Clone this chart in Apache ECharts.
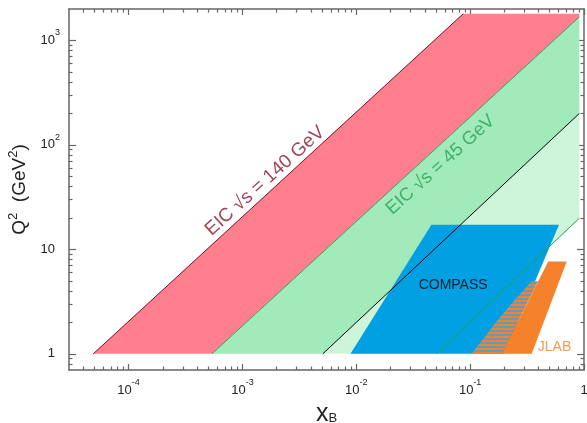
<!DOCTYPE html>
<html>
<head>
<meta charset="utf-8">
<script src="https://cdn.jsdelivr.net/npm/echarts@6/dist/echarts.min.js"></script>
<style>
html,body{margin:0;padding:0;background:#fff;}
#chart{width:587px;height:423px;}
</style>
</head>
<body>
<div id="chart"></div>
<script>
// ---- axis ticks ----
const xMajorTicks = [1e-4, 1e-3, 1e-2, 1e-1, 1];
const xMinorTicks = [4e-5,5e-5,6e-5,7e-5,8e-5,9e-5,
  2e-4,3e-4,4e-4,5e-4,6e-4,7e-4,8e-4,9e-4,
  2e-3,3e-3,4e-3,5e-3,6e-3,7e-3,8e-3,9e-3,
  2e-2,3e-2,4e-2,5e-2,6e-2,7e-2,8e-2,9e-2,
  0.2,0.3,0.4,0.5,0.6,0.7,0.8,0.9];
const yMajorTicks = [1, 10, 100, 1000];
const yMinorTicks = [0.8,0.9,2,3,4,5,6,7,8,9,20,30,40,50,60,70,80,90,200,300,400,500,600,700,800,900];

// ---- kinematic regions (x_B, Q^2) ----
const eic140Band = [[4.9e-5,1],[0.087,1800],[0.91,1800],[0.91,1680],[5.4e-4,1]];
const eic45Band  = [[5.4e-4,1],[0.91,1680],[0.91,200],[5.08e-3,1]];
const eic45Light = [[5.08e-3,1],[0.91,200],[0.91,19.9],[0.0506,1]];
const compassRegion = [[0.0089,1],[0.0457,17.2],[0.603,17.2],[0.2,1]];
const jlabHatch = [[0.103,1],[0.171,2.05],[0.247,3.3],[0.347,4.94],[0.395,4.94],[0.189,1]];
const jlabRegion = [[0.189,1],[0.485,7.66],[0.705,7.66],[0.347,1]];

// ---- boundary lines ----
const edge140 = [[4.9e-5,1],[0.087,1800]];
const edge45 = [[5.4e-4,1],[0.91,1680]];
const edgeBlack = [[5.08e-3,1],[0.91,200]];
const edgeGreenThin = [[0.0506,1],[0.91,19.9]];

// ---- region labels ----
const labelTexts = ['EIC \u221As = 140 GeV', 'EIC \u221As = 45 GeV', 'COMPASS', 'JLAB'];
const labelPos = [[1.58e-3,45.2],[0.055,64.3],[0.0709,4.59],[0.551,1.17]];

const chart = echarts.init(document.getElementById('chart'), null, {renderer:'canvas'});

function polygonSeries(pts, fill, z){
  return {
    type:'custom', coordinateSystem:'cartesian2d', xAxisIndex:0, yAxisIndex:0,
    data: pts, z: z, silent:true, animation:false, clip:false,
    renderItem: function(params, api){
      if (params.dataIndex !== 0) return null;
      const points = pts.map(p => api.coord(p));
      return {type:'polygon', shape:{points:points}, style:{fill:fill, stroke:null}};
    }
  };
}
function lineSeries(pts, color, width, z){
  return {
    type:'custom', coordinateSystem:'cartesian2d', xAxisIndex:0, yAxisIndex:0,
    data: pts, z: z, silent:true, animation:false, clip:false,
    renderItem: function(params, api){
      if (params.dataIndex !== 0) return null;
      const points = pts.map(p => api.coord(p));
      return {type:'polyline', shape:{points:points}, style:{stroke:color, lineWidth:width, fill:null}};
    }
  };
}

// hatch pattern: orange stripes with blue-grey gaps
const pc = document.createElement('canvas');
pc.width = 4; pc.height = 4;
const pctx = pc.getContext('2d');
pctx.fillStyle = '#5c9cc6';
pctx.fillRect(0,0,4,4);
pctx.fillStyle = '#f5812a';
pctx.fillRect(0,0,4,2);

const axisColor = '#666';
const font = 'Liberation Sans, Arial, Helvetica, sans-serif';
const supRich = {
  b: {fontSize:13, fontFamily:font, color:'#222', lineHeight:24, verticalAlign:'middle'},
  bp: {fontSize:13, fontFamily:font, color:'#222', lineHeight:24, padding:[0,5,0,0]},
  s: {fontSize:9, fontFamily:font, color:'#222', lineHeight:9, verticalAlign:'top'}
};
function powLabel(v){
  const e = Math.round(Math.log10(v));
  if (e === 0) return '{b|1}';
  return '{b|10}{s|' + e + '}';
}
function yLabel(v){
  const e = Math.round(Math.log10(v));
  if (e === 0) return '{bp|1}';
  if (e === 1) return '{bp|10}';
  return '{b|10}{s|' + e + '}';
}

const xCommon = {type:'log', logBase:10, min:3e-5, max:1, gridIndex:0, splitLine:{show:false}};
const yCommon = {type:'log', logBase:10, min:0.7, max:2000, gridIndex:0, splitLine:{show:false}};

const option = {
  backgroundColor:'#fff',
  animation:false,
  grid:{left:69, right:3, top:9, bottom:53, containLabel:false, outerBoundsMode:'none'},
  xAxis:[
    Object.assign({}, xCommon, {
      position:'bottom',
      name:'{x|x}{sb|B}', nameLocation:'middle', nameGap:15,
      nameTextStyle:{verticalAlign:'top', rich:{
        x:{fontSize:25, fontFamily:font, color:'#222', lineHeight:24, verticalAlign:'top'},
        sb:{fontSize:13, fontFamily:font, color:'#222', lineHeight:13, verticalAlign:'bottom'}
      }},
      axisLine:{show:true, lineStyle:{color:axisColor, width:1.5}},
      axisTick:{show:true, inside:true, length:6, customValues:xMajorTicks, lineStyle:{color:axisColor, width:1.2}},
      axisLabel:{show:true, margin:8, customValues:xMajorTicks, formatter:powLabel, rich:supRich}
    }),
    Object.assign({}, xCommon, {
      position:'bottom',
      axisLine:{show:false},
      axisTick:{show:true, inside:true, length:3.5, customValues:xMinorTicks, lineStyle:{color:axisColor, width:1.2}},
      axisLabel:{show:false}
    }),
    Object.assign({}, xCommon, {
      position:'top',
      axisLine:{show:true, lineStyle:{color:axisColor, width:1.5}},
      axisTick:{show:true, inside:true, length:6, customValues:xMajorTicks, lineStyle:{color:axisColor, width:1.2}},
      axisLabel:{show:false}
    }),
    Object.assign({}, xCommon, {
      position:'top',
      axisLine:{show:false},
      axisTick:{show:true, inside:true, length:3.5, customValues:xMinorTicks, lineStyle:{color:axisColor, width:1.2}},
      axisLabel:{show:false}
    })
  ],
  yAxis:[
    Object.assign({}, yCommon, {
      position:'left',
      name:'{q|Q}{s|2}{q|  (GeV}{s|2}{q|)}', nameLocation:'middle', nameGap:31, nameRotate:90,
      nameTextStyle:{rich:{
        q:{fontSize:19, fontFamily:font, color:'#222', lineHeight:26, verticalAlign:'middle'},
        s:{fontSize:13, fontFamily:font, color:'#222', lineHeight:13, verticalAlign:'top'}
      }},
      axisLine:{show:true, lineStyle:{color:axisColor, width:1.5}},
      axisTick:{show:true, inside:true, length:7, customValues:yMajorTicks, lineStyle:{color:axisColor, width:1.2}},
      axisLabel:{show:true, margin:9, customValues:yMajorTicks, formatter:yLabel, rich:supRich}
    }),
    Object.assign({}, yCommon, {
      position:'left',
      axisLine:{show:false},
      axisTick:{show:true, inside:true, length:3.5, customValues:yMinorTicks, lineStyle:{color:axisColor, width:1.2}},
      axisLabel:{show:false}
    }),
    Object.assign({}, yCommon, {
      position:'right',
      axisLine:{show:true, lineStyle:{color:axisColor, width:1.5}},
      axisTick:{show:true, inside:true, length:7, customValues:yMajorTicks, lineStyle:{color:axisColor, width:1.2}},
      axisLabel:{show:false}
    }),
    Object.assign({}, yCommon, {
      position:'right',
      axisLine:{show:false},
      axisTick:{show:true, inside:true, length:3.5, customValues:yMinorTicks, lineStyle:{color:axisColor, width:1.2}},
      axisLabel:{show:false}
    })
  ],
  series:[
    polygonSeries(eic140Band, '#ff7f8f', 1),
    polygonSeries(eic45Band, '#a0ebb9', 2),
    polygonSeries(eic45Light, '#cdf5da', 3),
    polygonSeries(compassRegion, '#00a0e3', 4),
    polygonSeries(jlabHatch, {image: pc, repeat:'repeat'}, 5),
    polygonSeries(jlabRegion, '#f5812a', 6),
    lineSeries(edge140, '#7a1020', 1, 7),
    lineSeries(edge45, '#2ea35a', 1, 7),
    lineSeries(edgeBlack, '#000000', 1, 7),
    lineSeries(edgeGreenThin, '#23a24a', 1, 7),
    {
      type:'scatter', xAxisIndex:0, yAxisIndex:0, z:10, silent:true, symbolSize:0,
      data: []
    }
  ]
};
const lblStyles = [
  {fontSize:19, color:'#8a162a', rotate:42},
  {fontSize:18.5, color:'#28a055', rotate:42},
  {fontSize:14, color:'#000', rotate:0},
  {fontSize:14, color:'#f5812a', rotate:0}
];
option.series[option.series.length-1].data = labelPos.map((p,i) => ({
  value:p, name:labelTexts[i],
  label:Object.assign({show:true, position:'inside', fontFamily:font, formatter: labelTexts[i]}, lblStyles[i])
}));
chart.setOption(option);
</script>
</body>
</html>
